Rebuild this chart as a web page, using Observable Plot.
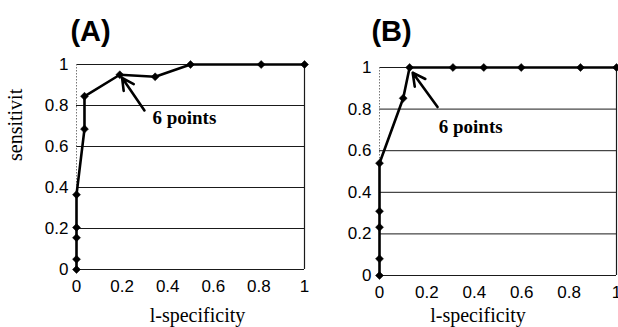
<!DOCTYPE html>
<html>
<head>
<meta charset="utf-8">
<script src="https://cdn.jsdelivr.net/npm/d3@7"></script>
<script src="https://cdn.jsdelivr.net/npm/@observablehq/plot@0.6"></script>
<style>
  html, body { margin: 0; padding: 0; background: #fff; }
  #wrap { position: relative; width: 618px; height: 327px; overflow: hidden; }
  #wrap svg { position: absolute; top: 0; }
</style>
</head>
<body>
<div id="wrap"></div>
<script>
// Panel A data (1-specificity, sensitivity)
const aX = [0, 0, 0, 0, 0, 0.035, 0.035, 0.19, 0.345, 0.5, 0.81, 1];
const aY = [0, 0.05, 0.155, 0.205, 0.365, 0.685, 0.845, 0.95, 0.94, 1, 1, 1];
// Panel B data
const bX = [0, 0, 0, 0, 0, 0.10, 0.127, 0.31, 0.44, 0.598, 0.848, 1];
const bY = [0, 0.08, 0.232, 0.309, 0.54, 0.852, 1, 1, 1, 1, 1, 1];
// ticks
const xTicks = [0, 0.2, 0.4, 0.6, 0.8, 1];
const yTicks = [0, 0.2, 0.4, 0.6, 0.8, 1];
// annotation (data coordinates)
const annoText = "6 points";
const aArrow = [{x1: 0.298, y1: 0.776, x2: 0.2, y2: 0.935}];
const aLabel = [{x: 0.333, y: 0.712}];
const bArrow = [{x1: 0.245, y1: 0.81, x2: 0.14, y2: 0.975}];
const bLabel = [{x: 0.25, y: 0.683}];
const titles = ["(A)", "(B)"];
const xLabel = "l-specificity";
const yLabel = "sensitivit";

const serif = "'Liberation Serif', 'Times New Roman', serif";
const sans = "'Liberation Sans', Arial, sans-serif";
const fmt = d => String(d);

function panel(opts) {
  const pts = opts.xs.map((x, i) => ({x, y: opts.ys[i]}));
  const marks = [
    Plot.ruleY(yTicks, {stroke: "#1a1a1a", strokeWidth: 1}),
    Plot.ruleX([0], {stroke: "#777", strokeWidth: 1, strokeDasharray: "1.5,1.5"}),
    Plot.ruleX([1], {stroke: "#1a1a1a", strokeWidth: 1.2}),
    Plot.line(pts, {x: "x", y: "y", stroke: "#000", strokeWidth: 2.6}),
    Plot.dot(pts, {x: "x", y: "y", symbol: "diamond2", fill: "#000", stroke: "#000", strokeWidth: 0.5, r: 3.6}),
    Plot.arrow(opts.arrow, {x1: "x1", y1: "y1", x2: "x2", y2: "y2", stroke: "#000", strokeWidth: 2.6, headLength: 11, headAngle: 55}),
    Plot.text(opts.label, {x: "x", y: "y", text: () => annoText, textAnchor: "start", lineAnchor: "bottom",
      fontFamily: serif, fontWeight: "bold", fontSize: 19, fill: "#000"}),
    Plot.text([opts.title], {frameAnchor: "top-left", dx: opts.titleDx, dy: opts.titleDy, textAnchor: "middle", lineAnchor: "middle",
      fontFamily: sans, fontWeight: "bold", fontSize: 29, fill: "#000"}),
    Plot.text([xLabel], {frameAnchor: "bottom", dx: opts.xlDx, dy: opts.xlDy, lineAnchor: "middle",
      fontFamily: serif, fontSize: 20, fill: "#000"})
  ];
  if (opts.yLabel) {
    marks.push(Plot.text([opts.yLabel], {frameAnchor: "left", dx: -61, dy: -6, rotate: -90, lineAnchor: "middle",
      fontFamily: serif, fontSize: 20, fill: "#000"}));
  }
  const svg = Plot.plot({
    width: opts.width,
    height: 327,
    marginLeft: opts.ml,
    marginRight: opts.mr,
    marginTop: opts.mt,
    marginBottom: opts.mb,
    style: {background: "transparent", fontFamily: sans, fontSize: "17px", color: "#000", overflow: "visible"},
    x: {domain: [0, 1], ticks: xTicks, tickFormat: fmt, tickSize: 0, tickPadding: 10, label: null},
    y: {domain: [0, 1], ticks: yTicks, tickFormat: fmt, tickSize: 0, tickPadding: 8, label: null},
    marks
  });
  svg.style.left = opts.left + "px";
  return svg;
}

const wrap = document.getElementById("wrap");
wrap.appendChild(panel({
  xs: aX, ys: aY, arrow: aArrow, label: aLabel, title: titles[0], yLabel,
  width: 310, left: 0, ml: 76, mr: 6, mt: 64, mb: 58,
  titleDx: 14, titleDy: -33, xlDx: 7, xlDy: 46
}));
wrap.appendChild(panel({
  xs: bX, ys: bY, arrow: bArrow, label: bLabel, title: titles[1], yLabel: null,
  width: 308, left: 310, ml: 69, mr: 2, mt: 67, mb: 52,
  titleDx: 12, titleDy: -36, xlDx: -20, xlDy: 40
}));
</script>
</body>
</html>
